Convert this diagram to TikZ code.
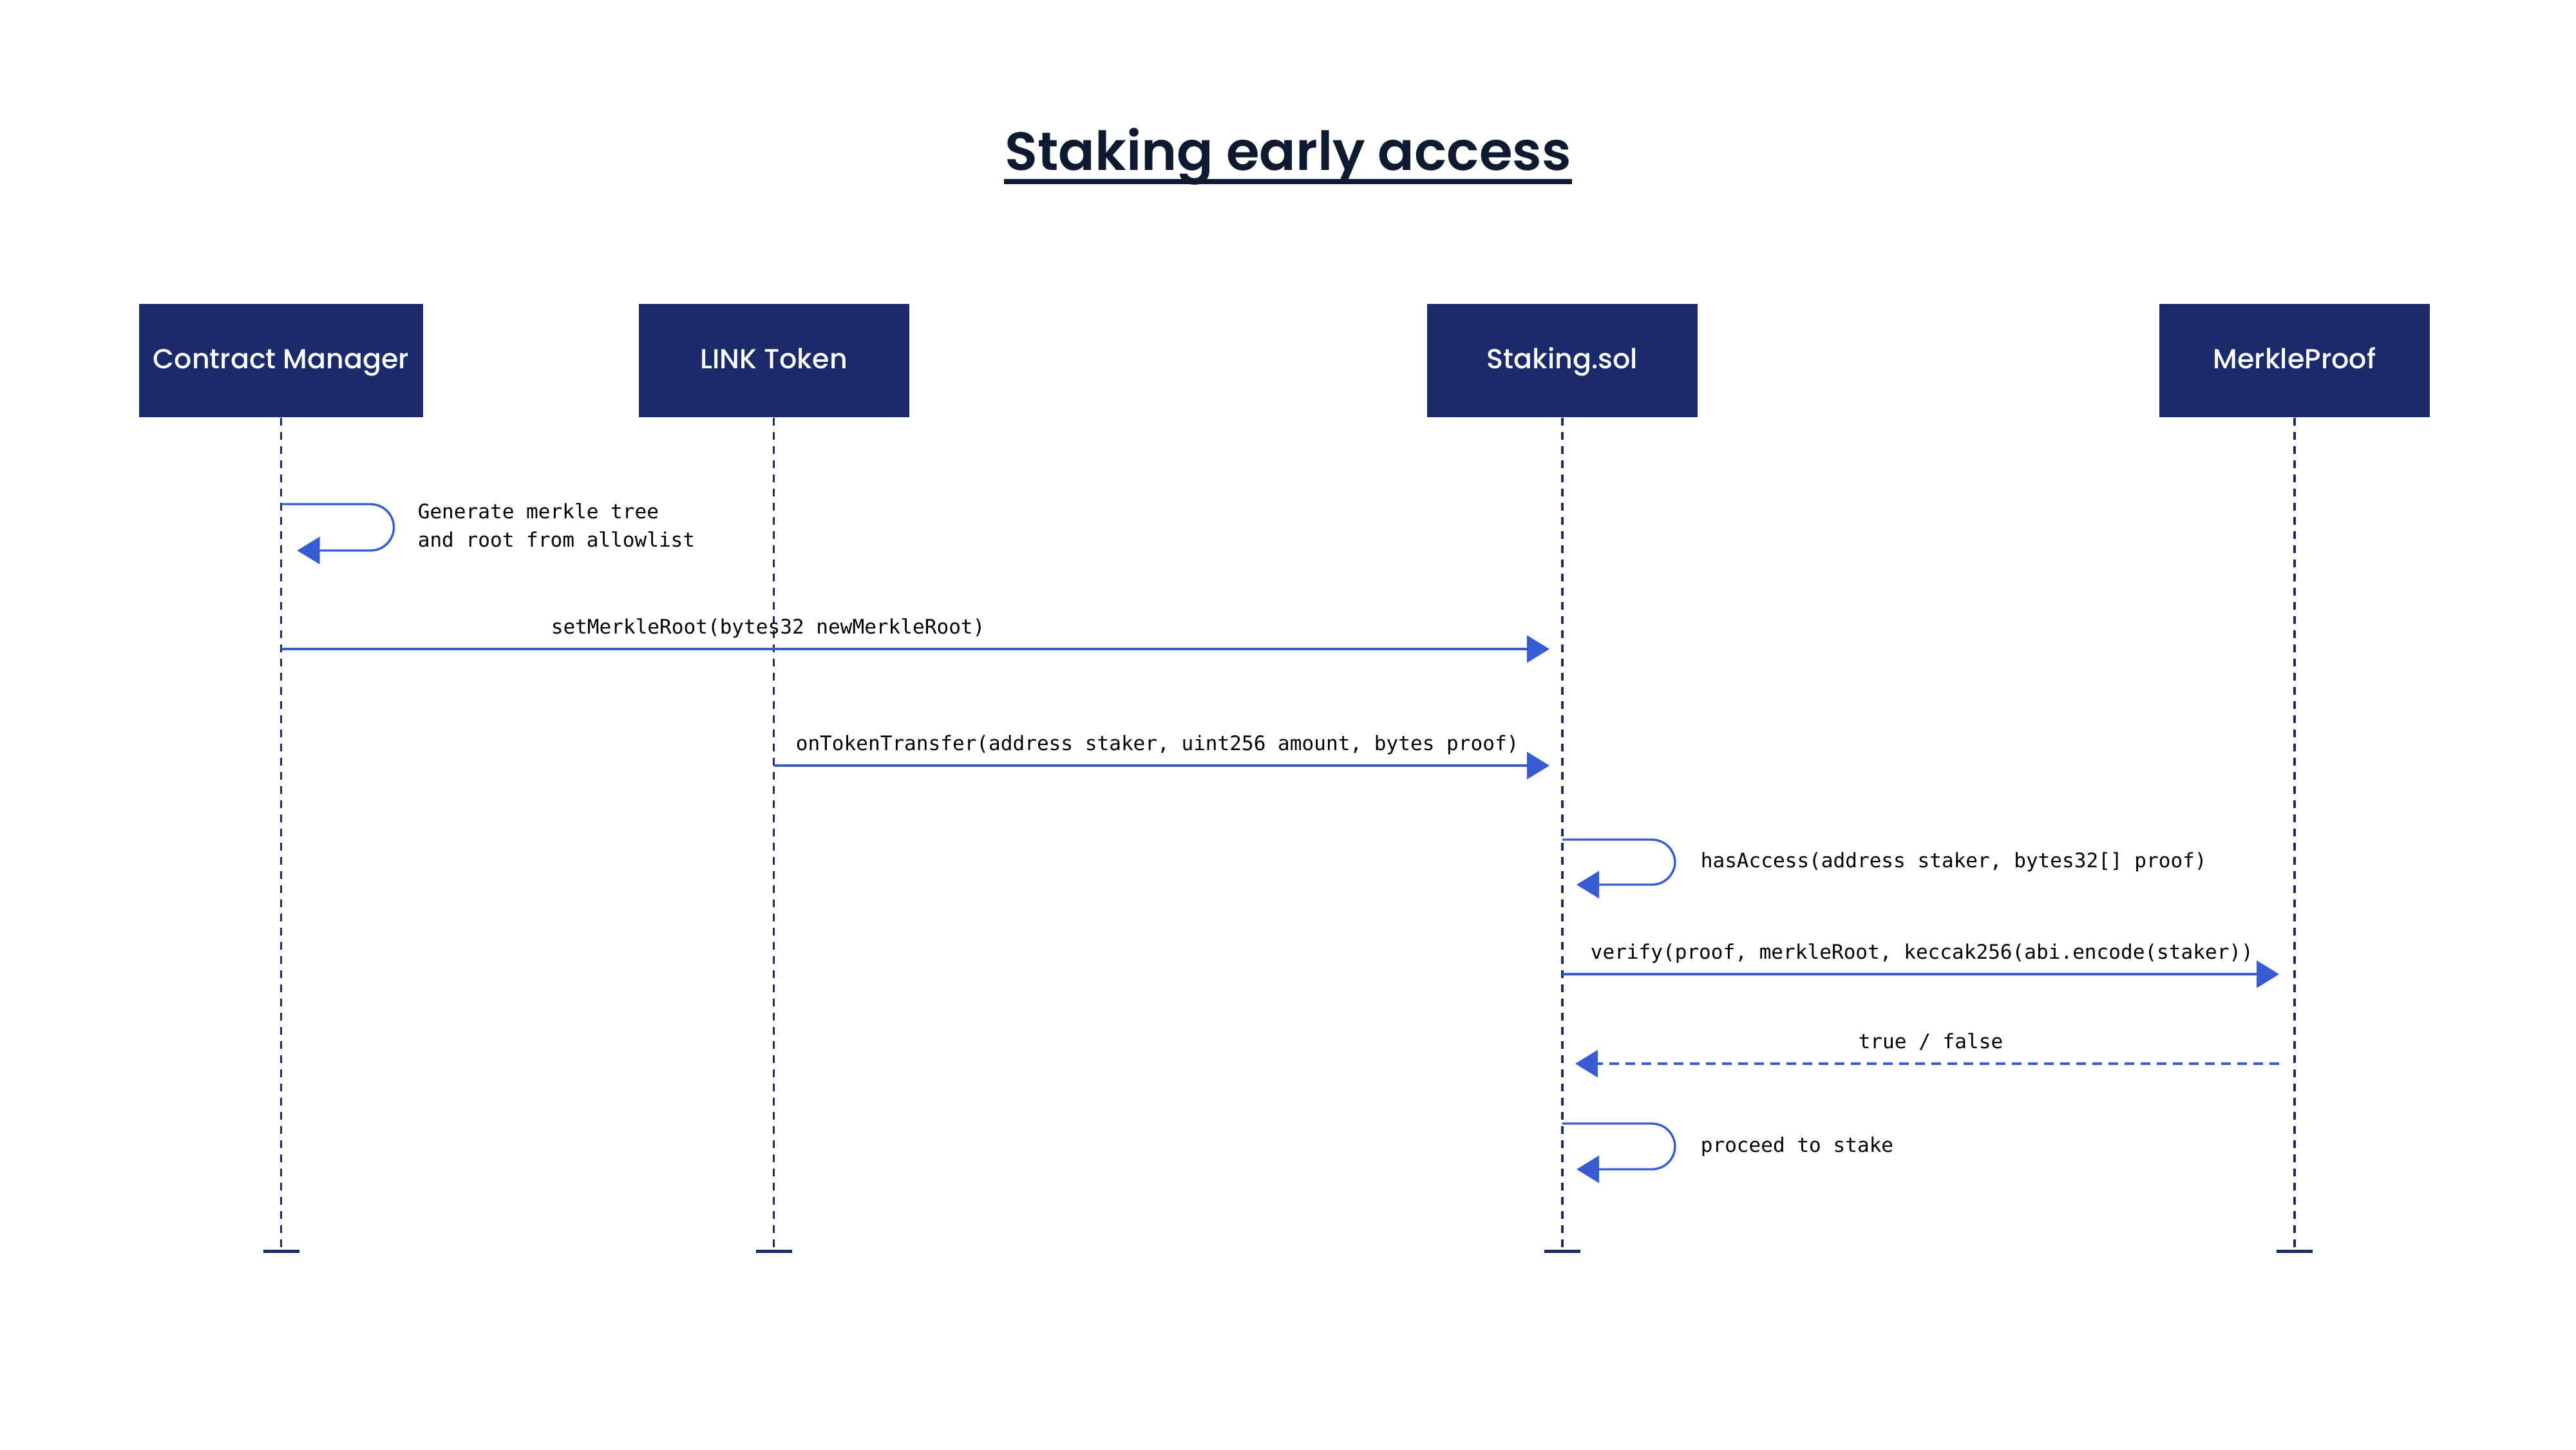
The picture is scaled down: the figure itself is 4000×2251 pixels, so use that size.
\documentclass[tikz,border=0pt]{standalone}
\usepackage{fontspec}
\usetikzlibrary{arrows.meta}
\IfFontExistsTF{Poppins Medium}{\newfontfamily\boxfont{Poppins Medium}}{\newfontfamily\boxfont{Poppins}}
\IfFontExistsTF{Poppins SemiBold}{\newfontfamily\titlefont{Poppins SemiBold}}{\newfontfamily\titlefont{Poppins}[UprightFont=*-Bold]}
\newfontfamily\monofont{DejaVu Sans Mono}
\definecolor{navy}{RGB}{27,42,107}
\definecolor{linkblue}{RGB}{55,91,210}
\definecolor{titlecol}{RGB}{14,26,48}
\begin{document}
\begin{tikzpicture}[x=0.25pt,y=-0.25pt,
  actor/.style={fill=navy, text=white, minimum width=105pt, minimum height=44pt, inner sep=0pt,
    text height=8pt, text depth=2pt,
    font=\boxfont\fontsize{10.7pt}{12pt}\selectfont},
  lifeline/.style={draw=navy, line width=0.95pt, dash pattern=on 3pt off 2.5pt},
  endbar/.style={draw=navy, line width=1.25pt},
  msg/.style={draw=linkblue, line width=0.85pt, -{Triangle[length=8.75pt,width=10.5pt]}},
  reply/.style={msg, dash pattern=on 3.75pt off 2.5pt},
  selfmsg/.style={msg, rounded corners=9pt},
  lbl/.style={font=\monofont\fontsize{7.77pt}{11pt}\selectfont, inner sep=0pt, anchor=base west, text=black, align=left},
]
\useasboundingbox (0,0) rectangle (4000,2251);
\fill[white] (0,0) rectangle (4000,2251);

% title
\node[font=\titlefont\fontsize{20.9pt}{25pt}\selectfont, text=titlecol, anchor=base, inner sep=0pt] (title) at (2000,264) {Staking early access};
\draw[titlecol, line width=2pt] ([yshift=-4.5pt]title.base west) -- ([yshift=-4.5pt]title.base east);

% actors
\node[actor, minimum width=110.25pt] (cm) at (436.5,560) {Contract Manager};
\node[actor] (lt) at (1201.5,560) {LINK Token};
\node[actor] (st) at (2426,560) {Staking.sol};
\node[actor] (mp) at (3563,560) {MerkleProof};

% lifelines
\foreach \a in {cm,lt,st,mp}{
  \coordinate (\a End) at (\a.south |- 0,1943);
  \draw[lifeline] (\a.south) -- ([yshift=0.6pt]\a End);
  \draw[endbar] ([xshift=-7pt]\a End) -- ([xshift=7pt]\a End);
}

% 1 self message
\draw[selfmsg] (cm.south |- 0,783) -- ++(175,0) -- ++(0,72) -- ++(-150,0);
\node[lbl] (l1) at (648,849) {Generate merkle tree\\and root from allowlist};

% 2
\draw[msg, shorten >=5pt] (cm.south |- 0,1008) -- (st.south |- 0,1008);
\node[lbl] (l2) at (855,984) {setMerkleRoot(bytes32 newMerkleRoot)};

% 3
\draw[msg, shorten >=5pt] (lt.south |- 0,1189) -- (st.south |- 0,1189);
\node[lbl] (l3) at (1235,1165) {onTokenTransfer(address staker, uint256 amount, bytes proof)};

% 4
\draw[selfmsg] (st.south |- 0,1304) -- ++(175,0) -- ++(0,70) -- ++(-153,0);
\node[lbl] (l4) at (2640,1347) {hasAccess(address staker, bytes32[] proof)};

% 5
\draw[msg, shorten >=6pt] (st.south |- 0,1513) -- (mp.south |- 0,1513);
\node[lbl] (l5) at (2469,1489) {verify(proof, merkleRoot, keccak256(abi.encode(staker))};

% 6
\draw[reply, shorten <=6pt, shorten >=5pt] (mp.south |- 0,1652) -- (st.south |- 0,1652);
\node[lbl, anchor=base] (l6) at (2998,1628) {true / false};

% 7
\draw[selfmsg] (st.south |- 0,1745) -- ++(175,0) -- ++(0,71) -- ++(-153,0);
\node[lbl] (l7) at (2640,1789) {proceed to stake};
\end{tikzpicture}
\end{document}
